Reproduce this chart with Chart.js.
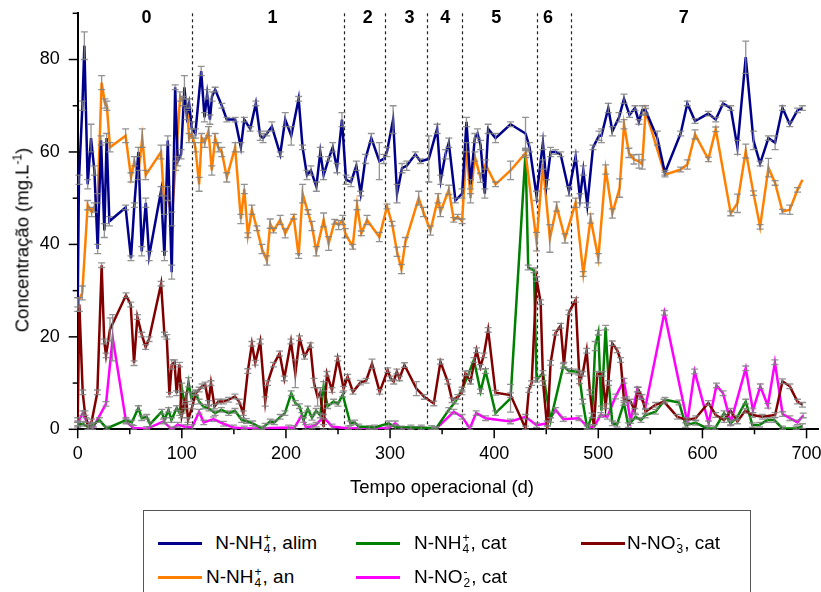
<!DOCTYPE html>
<html>
<head>
<meta charset="utf-8">
<script src="https://cdn.jsdelivr.net/npm/chart.js@4.4.1/dist/chart.umd.min.js"></script>
<style>
  body { margin: 0; background: #fff; font-family: 'Liberation Sans', Arial, sans-serif; }
  #wrap { position: relative; width: 821px; height: 592px; overflow: hidden; background: #fff; }
  #c { position: absolute; left: 0; top: 0; }
  #ytitle { position: absolute; left: 22px; top: 240px; transform: translate(-50%, -50%) rotate(-90deg); font-size: 18.5px; white-space: nowrap; }
  #ytitle sup { font-size: 12px; }
  #xtitle { position: absolute; left: 442px; top: 487px; transform: translate(-50%, -50%); font-size: 18.5px; white-space: nowrap; }
  #legend { position: absolute; left: 143px; top: 510px; width: 606px; height: 100px; border: 1px solid #555; }
  .sw { position: absolute; height: 3px; width: 44px; }
  .lt { position: absolute; font-size: 19px; white-space: nowrap; transform: translateY(-50%); }
  .ss { display: inline-block; vertical-align: middle; font-size: 12px; line-height: 11px; margin: 0 1px; }
  .ss i { display: block; font-style: normal; }
</style>
</head>
<body>
<div id="wrap">
  <canvas id="c" width="821" height="500"></canvas>
  <div id="ytitle">Concentração (mg.L<sup>-1</sup>)</div>
  <div id="xtitle">Tempo operacional (d)</div>
  <div id="legend">
    <div class="sw" style="left:14px;top:31px;background:#00008b"></div>
    <div class="lt" style="left:66px;top:32px">&nbsp;N-NH<span class="ss"><i>+</i><i>4</i></span>, alim</div>
    <div class="sw" style="left:212px;top:31px;background:#008000"></div>
    <div class="lt" style="left:270px;top:32px">N-NH<span class="ss"><i>+</i><i>4</i></span>, cat</div>
    <div class="sw" style="left:437px;top:31px;background:#800000"></div>
    <div class="lt" style="left:483px;top:32px">N-NO<span class="ss"><i>-</i><i>3</i></span>, cat</div>
    <div class="sw" style="left:14px;top:65px;background:#ff8000"></div>
    <div class="lt" style="left:62px;top:66px">N-NH<span class="ss"><i>+</i><i>4</i></span>, an</div>
    <div class="sw" style="left:212px;top:65px;background:#ff00ff"></div>
    <div class="lt" style="left:270px;top:66px">N-NO<span class="ss"><i>-</i><i>2</i></span>, cat</div>
  </div>
</div>
<script>
// [day, value, error] per series
const alimData = [
  [0,27,1.5],[1.2,54,1],[4.5,70,1],[6.4,83,3],[9.6,53,1],[12.8,63,3],[16,56,1],[19.2,39,1],[22.4,62.5,1],
  [25.6,43,1.5],[27.8,63,1],[30.4,45,1],[46,48,0.5],[51.2,37,0.5],[54.4,48.5,0.5],[58.3,60,1],[61.5,38.5,1],
  [65.4,49,1],[68.6,37.5,1],[80,51.5,1],[83.3,37.5,1],[86.5,62.5,1],[90.3,34,1.5],[93.6,74,0.5],[96.1,58,1],
  [99.3,59.5,1],[102.5,74,2.5],[104.8,68,1],[107,70.5,1],[109.6,65,1.5],[113,64,1],[118.6,77.5,1],[121.8,67.5,1],
  [124.3,72.5,1],[127,67,1],[129,72,1],[132,73.5,0.5],[138.4,70,0.5],[143.2,67,0.5],[151.2,67,0.5],[156.7,61,1],
  [160,67,0.5],[165.7,65,0.5],[171.1,70.5,0.5],[175.3,63.5,1],[178,63,1],[181.7,64,0.5],[186.5,65.5,1],
  [194.5,59.5,0.5],[199.3,67,1.5],[205.1,63.5,2],[212.2,71.5,0.5],[216,61,0.5],[220.2,55,1],[224,56,1],
  [229.2,52.5,1],[233,60,1],[236.2,55,1],[241,58.5,0.5],[244.9,61,1],[249,56.5,1],[253.8,67,1.5],[257.7,54,1],
  [262.5,53.5,1],[267.6,57,1],[271.8,51,0.5],[276.3,58.5,1],[282,63,1],[289.7,58,4],[293.9,58.5,1],[297,60,1],
  [302.9,67,3],[306.7,51,2],[311.5,56.5,1],[316,57,1],[324.3,59.5,0.5],[329.2,58,0.5],[337.2,58.5,5],[345.2,65,1],
  [348.7,54,1],[353.2,59.5,1],[356.4,62,1],[362.8,49.5,0.5],[369.2,51,1],[373.4,66.5,1],[377.3,53,1],[381.4,63,1],
  [384,64,1],[386.9,61.5,1],[391,51,1],[394.2,65,1],[401.3,63,1],[415.7,66,0.5],[430.1,64,3.5],[434,61,1],
  [440.7,50.5,1],[446.8,62,1.5],[450.3,53,1],[454.2,60,1],[459,60,0.5],[463.8,59.5,0.5],[471.8,51.5,1],
  [478.2,59,1],[482.4,50,1],[485.6,56,1],[489.4,48.5,0.5],[494.9,61,0.5],[500.7,63.5,1],[503,63.5,1.5],
  [509.6,69.5,1],[513.5,64.5,1],[519.9,67.5,1],[524.7,71.5,1],[530,68,0.5],[535.2,69.5,0.5],[539,66.5,0.5],
  [542.2,69,1],[545.4,69,1],[556.7,63,1.5],[564,55.5,0.5],[579.1,64,0.5],[585.5,70.5,0.5],[592.9,66.7,0.5],
  [605.7,68.3,0.5],[612.8,67,0.5],[619.8,70.5,0.5],[627.2,69.5,0.5],[633.6,61,1.5],[641.6,80.5,3.5],[649,62.5,2],
  [655.4,57.5,0.5],[663.4,63,0.5],[669.8,62,1.5],[676.9,69.5,0.5],[683.9,66,0.5],[691.3,69,0.5],[696.1,69.5,0.5]
];
const anData = [
  [0,27.5,1],[4.4,29.5,1.5],[9.6,48.5,1],[13.4,47,1],[16,48,1],[19.2,50,1],[23,75,1.5],[26.2,70.5,1],[28,70,1],
  [31,61,1],[46,63.5,1.5],[51.2,54.5,1],[54.4,58,1],[58,55,1],[62,63,2],[65.3,55,1],[80,60,1.5],[83.3,48.5,2],
  [86.5,51,1.5],[90.3,45.5,1.5],[94,57,1],[98.4,72,1],[101,71,1],[104.8,70.5,1],[107,63,1],[109.6,64,1],[113,61,1],
  [116.6,53,1.5],[119,63,1],[122,62,1],[125.6,64.5,1],[128.8,56,1],[132,63,1],[135,61,1],[138.4,60,1],[143.2,54.5,1],
  [151.2,61,1],[156.7,45.5,1],[160,52,1],[163.4,42,0.5],[167.3,47.5,1],[172.1,43.5,0.5],[177,39,1],[181.7,36.5,1],
  [184.9,44.5,1],[188.1,43,0.5],[194.5,45.3,1],[199.3,42.4,1],[207.4,46,0.5],[212.2,37.5,0.5],[216,51,2],
  [221.1,47,0.5],[225,44,1],[229.2,38.5,1],[236.2,45.3,1.5],[241,40.2,1.5],[246.8,44.9,0.5],[250.6,44.2,1],
  [254.5,45.3,1],[257,42.4,1],[264.1,39.5,0.5],[268.3,48.5,1],[272.4,42.4,0.5],[277.9,45.3,1],[289.7,41.6,1],
  [297.1,48.2,0.5],[301.9,44.5,0.5],[306.7,38.4,1],[310.9,34.7,1],[314.7,40.5,1],[327.5,50,1.5],[332,47,1],
  [338.8,43,1],[346.1,50,1],[348.4,47,1],[356.4,51.8,1],[361.2,45.3,0.5],[365,46,0.5],[369.2,45,0.5],[373.4,61,1],
  [377.3,50,1],[381.4,59,1],[386.9,54.4,1],[391.7,57.3,1],[401.3,53,0.5],[415.7,56,2],[430.1,59.8,1],[440.7,40.6,2],
  [446.8,57.3,1],[453.5,41.3,3],[460,48.2,1],[468,41.3,1],[478.2,49,1],[485.6,33.6,0.5],[492.6,45.6,1],[500,37,1],
  [507.1,56.2,1],[513.5,46.7,1],[520.5,52.2,2],[524.7,66,1],[529.4,59.8,1],[534.2,58.4,1],[539,58,1.5],
  [542.2,57.3,1],[545.4,68.9,0.5],[564,55.1,0.5],[579.1,56.2,0.5],[585.5,57.3,1],[592.9,63.8,1],[605.7,58.4,0.5],
  [612.8,64.9,0.5],[627.2,46.7,0.5],[633.6,48.9,2],[641.6,60.2,1.5],[649,51.1,0.5],[655.4,43.8,0.5],[663.4,56.6,2],
  [669.8,53.3,0.5],[676.9,47.1,0.5],[683.9,47.5,1],[691.3,51.8,0.5],[696.1,54,0]
];
const catNH4Data = [
  [0,1,0.5],[5,1.2,0.5],[10,0.5,0.5],[15,1,0.5],[20.8,2,0.5],[27.9,0.2,0.5],[46.4,2,0.5],[52,1.5,0.5],[58.3,4.6,0.5],
  [61.5,2.4,0.5],[66.3,2.7,0.5],[69.5,1.1,0.5],[80.7,3.8,0.5],[83.3,2,0.5],[87.2,4.2,0.5],[90,2,0.5],[95.1,4.6,0.5],
  [98,3.5,0.5],[100,9,1],[103,5,0.5],[106.4,10.2,1],[109,7,1],[113,8,0.5],[116.6,6,0.5],[120.8,4.9,0.5],[126,4.5,0.5],
  [132,3.5,0.5],[138,4.2,0.5],[145,3.5,0.5],[151,4,0.5],[157.6,2,0.5],[162,1.8,0.5],[168,1.3,0.5],[176.9,0.2,0.5],
  [180,0.8,0.5],[184.9,1.7,0.5],[189,1.5,0.5],[194.5,2.7,0.5],[199,3.5,0.5],[205.1,7.8,0.5],[209,5.7,0.5],[213,5,0.5],
  [217,2,0.5],[221,4.5,0.5],[225,2.5,0.5],[229,4,0.5],[233,3,0.5],[236.2,9.3,1],[240,5,0.5],[245.8,6,0.5],[250,5.5,0.5],
  [254.5,7.5,0.5],[261.8,1.3,0.5],[266,1.5,0.5],[269.9,0.6,0.5],[285,0.4,0.5],[298.7,1.3,0.5],[305,0.5,0.5],
  [320,0.4,0.5],[340,0.3,0.5],[343.6,0,0.5],[356.4,4.2,0.5],[362.8,6,0.5],[369.2,8.6,0.5],[375.7,12.2,0.5],
  [380.5,15,0.5],[386.9,8.2,0.5],[391.7,12.6,0.5],[401.3,3.5,0.5],[415.7,6.7,3],[430.1,59.8,0.5],[432.7,35,0.5],
  [438.2,34.4,0.5],[440.7,10.7,0.5],[446.8,12.2,0.5],[454.2,2,0.5],[466.4,13.7,0.5],[471.8,12.6,0.5],[478,12.5,0.5],
  [481.4,12.2,0.5],[485,6,0.5],[489.4,0.2,0.5],[494,3,0.5],[497,18,1],[500,20.9,0.5],[503,4,1],[507,22,0.5],
  [510,10,0.5],[513.5,1.3,0.5],[518,1,0.5],[524.6,5.7,0.5],[528.8,0.9,0.5],[535.8,2.7,0.5],[541,2,0.5],[545,3,0.5],
  [555,3.8,0.5],[564,6.4,0.5],[577.5,5.8,0.5],[583.9,0.9,0.5],[593.5,1.4,0.5],[604.7,0.2,0.5],[612,0.2,0.5],
  [620.8,3.5,0.5],[627,1.3,0.5],[633,2.5,0.5],[641.6,6,0.5],[648,0.9,0.5],[655,1,0.5],[662.4,2,0.5],[669,2,0.5],
  [676.9,0.2,0.5],[690,0.2,0.5],[696,0.7,0.5]
];
const catNO3Data = [
  [0,2,0.5],[1.6,27,1.5],[4.8,8,0.5],[7,3.5,0.5],[10,0.5,0.5],[13.4,1.7,0.5],[18.9,8,0.5],[23,35.5,0.5],[25.5,19,0.5],
  [27.2,16,0.5],[31,21.6,2.5],[46.4,29,0.5],[50.9,27,0.5],[54.1,14.3,0.5],[57.3,24.3,0.5],[61.5,20.5,0.5],
  [65.3,17.8,0.5],[68.5,19.5,0.5],[80.1,31.5,0.5],[83.3,20.5,0.5],[85.5,20,0.5],[88.1,7.5,0.5],[90.3,14,1],
  [93,14.5,0.5],[95,7.8,0.5],[97.7,14,0.5],[100,3,0.5],[104,7,1],[106,2,0.5],[110,4.9,0.5],[113.4,7.8,0.5],
  [116.6,8.6,0.5],[119.5,9.3,0.5],[122.4,9.7,0.5],[125.6,5.7,0.5],[128,10,0.5],[131.4,4.9,0.5],[135,6,0.5],
  [140,6,0.5],[145,6.4,0.5],[151,7.1,0.5],[155,6,0.5],[159,3.5,0.5],[163.4,12.6,0.5],[167.3,18.5,0.5],
  [170.5,14.4,0.5],[175.3,19,0.5],[180.1,6,1],[182.3,10,0.5],[188.1,14,0.5],[193.9,16.4,0.5],[198.4,11,0.5],
  [204.8,19,0.5],[209,12,3],[213.1,19.7,0.5],[217.9,15.7,0.5],[223.4,18.2,0.5],[227,10,1],[230.4,7,2],[233,8,1],
  [236.2,0.5,0.5],[239.4,12,0.5],[244.2,8.5,0.5],[249.7,15.3,0.5],[255.4,8.8,0.5],[259.3,11.4,0.5],[264.4,8.1,0.5],
  [271.5,10.1,0.5],[277,10.5,0.5],[282.7,14.2,1],[290,8.1,0.5],[297.7,12.8,0.5],[300.5,11,0.5],[303.5,10.3,0.5],
  [306.5,12.5,0.5],[309,11,0.5],[313.8,13.9,0.5],[325.3,8.8,1.5],[333,7,0.5],[342,5.6,0.5],[348.4,14.6,0.5],
  [355.4,10.3,0.5],[359.6,6.3,0.5],[365,7,0.5],[369,8,0.5],[372.4,12.1,0.5],[377.2,10.3,0.5],[383,17.1,0.5],
  [386.8,13.5,0.5],[390,16,0.5],[394.2,21.5,0.5],[401.3,7.9,0.5],[415.7,7.4,0.5],[430.1,0.2,0.5],[433.3,8.5,0.5],
  [436,10,0.5],[440.7,32.5,0.5],[444.6,27.5,0.5],[447,10,0.5],[451,0.2,0.5],[454.2,14.4,0.5],[459,20.9,0.5],
  [463.8,22.4,0.5],[467,14,0.5],[471.8,25.3,0.5],[478.2,28,0.5],[482,10.4,0.5],[485,12,0.5],[488.8,17,0.5],
  [492,8,0.5],[495.8,0.5,0.5],[499,12,0.5],[503.8,12,0.5],[507,5,0.5],[513.4,18.6,0.5],[518.2,17.1,0.5],
  [521.4,15,0.5],[524.7,6.3,0.5],[527,6.5,0.5],[531,6,0.5],[535,4,0.5],[538.4,8.6,0.5],[542,7,0.5],[545.4,3.8,0.5],
  [555,5.3,0.5],[563,6,0.5],[576,2.7,0.5],[585,2,0.5],[593.5,2.4,0.5],[605.7,5.7,0.5],[612.8,3.1,0.5],[620.8,2,0.5],
  [627,4,0.5],[633.6,1.7,0.5],[641,4,0.5],[648,3.1,0.5],[657.6,2.7,0.5],[669.8,3.1,0.5],[676.9,10.4,0.5],
  [683.9,9.3,0.5],[691.3,6,0.5],[696.1,5.3,0.5]
];
const catNO2Data = [
  [0,1.3,0.5],[4.8,3.5,0.5],[8,2,0.5],[14.4,0.2,0.5],[27.2,5.5,0.5],[33.6,19.8,5],[46.4,1.7,0.5],[53.5,0.3,0.5],
  [66.3,0.1,0.5],[82.4,1.7,0.5],[90.3,0,0.5],[96,1,0.5],[104,0.5,0.5],[110,0.5,0.5],[116.6,3.8,0.5],[121,1.5,0.5],
  [130.4,2.2,0.5],[140,1.2,0.5],[149.6,0.4,0.5],[160,0.2,0.5],[170.5,0.2,0.5],[202.6,0.4,0.5],[208,0.3,0.5],
  [215.4,3.1,0.5],[219,0.5,0.5],[225,0.6,0.5],[229,1,0.5],[236.2,2.7,0.5],[244.2,0.6,0.5],[260,0.2,0.5],
  [280,0.3,0.5],[298,0.2,0.5],[305,1.3,0.5],[311,0.2,0.5],[330,0.4,0.5],[343.6,0,0.5],[361.2,3.8,0.5],
  [369.2,2.7,0.5],[376.6,0.2,0.5],[382.7,3.5,0.5],[391.7,2.4,0.5],[415.7,1.7,0.5],[430.1,2.7,0.5],[440.7,0.9,0.5],
  [451,1.3,0.5],[459,4.2,0.5],[466.4,2.2,0.5],[481.4,2.4,0.5],[489.4,0.6,0.5],[495.8,0.5,0.5],[502.3,3.1,0.5],
  [508.7,2.7,0.5],[516.6,7.1,0.5],[524.6,10.5,0.5],[531,1.8,0.5],[537.4,8.6,0.5],[540,7,0.5],[545.4,5,0.5],
  [563.5,25.2,0.5],[585.5,1.5,0.5],[592.5,12.5,0.5],[606,1.3,0.5],[613.5,9.5,0.5],[619.8,7.8,0.5],[627.2,1.5,0.5],
  [641.6,13.2,0.5],[648.5,4.1,0.5],[655.6,9.3,0.5],[662.8,5.1,0.5],[669.6,14.5,0.5],[677,3.3,0.5],[684,2.4,0.5],
  [691.3,1.5,0.5],[696.8,3,0.5]
];

// phases: divider days, label names and label positions
const phaseBounds = [110, 256, 295, 335, 369, 441, 474];
const phaseNames = ['0', '1', '2', '3', '4', '5', '6', '7'];
const phaseCenters = [66, 187, 278.5, 318.6, 353, 402, 451.6, 582];

const xTicksMajor = 100, xTicksMinor = 50;
const yTicksMajor = 20, yTicksMinor = 10;

const FONT = "'Liberation Sans', Arial, Helvetica, sans-serif";
Chart.defaults.font.family = FONT;
Chart.defaults.color = '#000';

function series(rows, color) {
  return {
    data: rows.map(r => ({ x: r[0], y: r[1] })),
    errors: rows.map(r => r[2]),
    borderColor: color,
    backgroundColor: color,
    borderWidth: 2.5,
    pointRadius: 0,
    tension: 0,
    showLine: true,
    fill: false,
  };
}

const errorBars = {
  id: 'errorBars',
  afterDatasetsDraw(chart) {
    const { ctx, scales: { x, y } } = chart;
    ctx.save();
    ctx.strokeStyle = 'rgba(128,128,128,0.85)';
    ctx.lineWidth = 1.3;
    chart.data.datasets.forEach(ds => {
      ds.data.forEach((p, i) => {
        const e = ds.errors[i];
        if (!e) return;
        const px = x.getPixelForValue(p.x);
        const t = y.getPixelForValue(p.y + e);
        const b = y.getPixelForValue(Math.max(0, p.y - e));
        ctx.beginPath();
        ctx.moveTo(px, t); ctx.lineTo(px, b);
        ctx.moveTo(px - 3.5, t); ctx.lineTo(px + 3.5, t);
        ctx.moveTo(px - 3.5, b); ctx.lineTo(px + 3.5, b);
        ctx.stroke();
      });
    });
    ctx.restore();
  }
};

const phases = {
  id: 'phases',
  beforeDatasetsDraw(chart) {
    const { ctx, chartArea: a, scales: { x } } = chart;
    ctx.save();
    ctx.strokeStyle = '#222';
    ctx.lineWidth = 1.2;
    ctx.setLineDash([3, 3]);
    phaseBounds.forEach(d => {
      const px = Math.round(x.getPixelForValue(d)) + 0.5;
      ctx.beginPath(); ctx.moveTo(px, a.top); ctx.lineTo(px, a.bottom); ctx.stroke();
    });
    ctx.restore();
  },
  afterDraw(chart) {
    const { ctx, chartArea: a, scales: { x } } = chart;
    ctx.save();
    ctx.font = 'bold 18px ' + FONT;
    ctx.fillStyle = '#000';
    ctx.textAlign = 'center';
    ctx.textBaseline = 'middle';
    phaseNames.forEach((n, i) => ctx.fillText(n, x.getPixelForValue(phaseCenters[i]), a.top + 5));
    ctx.restore();
  }
};

const axisTicks = {
  id: 'axisTicks',
  afterDraw(chart) {
    const { ctx, chartArea: a, scales: { x, y } } = chart;
    ctx.save();
    ctx.strokeStyle = '#000';
    ctx.lineWidth = 1.5;
    x.ticks.forEach(t => {
      const px = x.getPixelForValue(t.value);
      const len = t.value % xTicksMajor === 0 ? 9 : 5;
      ctx.beginPath(); ctx.moveTo(px, a.bottom); ctx.lineTo(px, a.bottom + len); ctx.stroke();
    });
    y.ticks.forEach(t => {
      const py = y.getPixelForValue(t.value);
      const len = t.value % yTicksMajor === 0 ? 9 : 5;
      ctx.beginPath(); ctx.moveTo(a.left, py); ctx.lineTo(a.left - len, py); ctx.stroke();
    });
    ctx.restore();
  }
};

new Chart(document.getElementById('c'), {
  type: 'scatter',
  data: {
    datasets: [
      series(alimData, '#00008b'),
      series(anData, '#ff8000'),
      series(catNO3Data, '#800000'),
      series(catNH4Data, '#008000'),
      series(catNO2Data, '#ff00ff'),
    ]
  },
  options: {
    responsive: false,
    animation: false,
    devicePixelRatio: 1,
    layout: { padding: { top: 13.3, right: 3, left: 0, bottom: 0 } },
    plugins: { legend: { display: false }, tooltip: { enabled: false } },
    scales: {
      x: {
        type: 'linear', min: 0, max: 711,
        afterFit: s => { s.height = 70.7; s.paddingLeft = 0; s.paddingRight = 0; },
        border: { display: true, color: '#000', width: 2 },
        grid: { display: true, drawOnChartArea: false, drawTicks: false },
        ticks: {
          stepSize: xTicksMinor, includeBounds: false, autoSkip: false, maxRotation: 0, padding: 14,
          font: { size: 18 }, color: '#000',
          callback: v => (v % xTicksMajor === 0 ? v : '')
        }
      },
      y: {
        type: 'linear', min: 0, max: 90,
        afterFit: s => { s.width = 77.7; s.paddingTop = 0; s.paddingBottom = 0; },
        border: { display: true, color: '#000', width: 2 },
        grid: { display: true, drawOnChartArea: false, drawTicks: false },
        ticks: {
          stepSize: yTicksMinor, includeBounds: false, autoSkip: false, padding: 18,
          font: { size: 18 }, color: '#000',
          callback: v => (v % yTicksMajor === 0 ? v : '')
        }
      }
    }
  },
  plugins: [phases, errorBars, axisTicks]
});
</script>
</body>
</html>
